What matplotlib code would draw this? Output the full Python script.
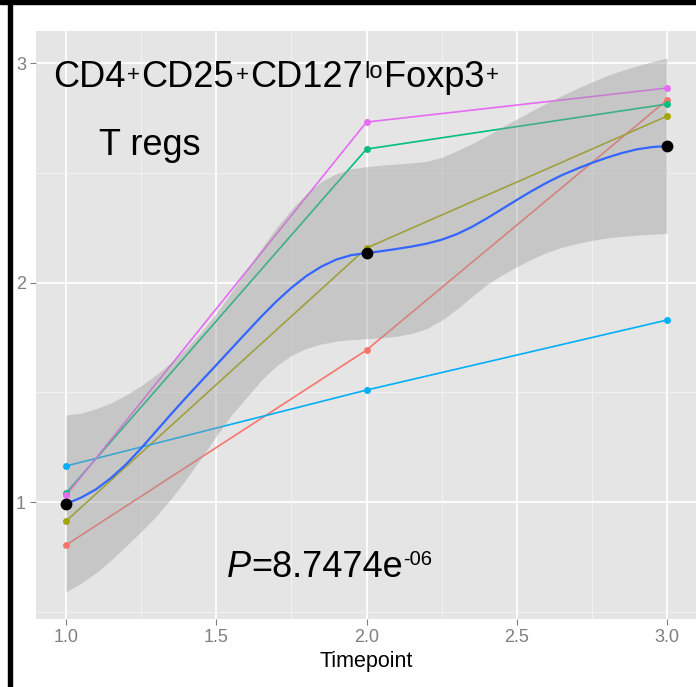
import numpy as np
import matplotlib
matplotlib.use("Agg")
import matplotlib.pyplot as plt
from matplotlib.patches import Rectangle
from matplotlib.transforms import offset_copy

plt.rcParams['font.family'] = ['Liberation Sans', 'DejaVu Sans']

# per-subject values at each timepoint
timepoints = [1.0, 2.0, 3.0]
subj_red = [0.804, 1.692, 2.831]
subj_olive = [0.913, 2.157, 2.758]
subj_green = [1.041, 2.608, 2.813]
subj_blue = [1.164, 1.510, 1.829]
subj_pink = [1.030, 2.731, 2.886]
subj_colors = ['#F8766D', '#A3A500', '#00BF7D', '#00B0F6', '#E76BF3']

# mean per timepoint (black dots)
means = [0.990, 2.134, 2.622]

# smoother and its band, every 0.05
sm_x = [1.00, 1.05, 1.10, 1.15, 1.20, 1.25, 1.30, 1.35, 1.40, 1.45, 1.50,
        1.55, 1.60, 1.65, 1.70, 1.75, 1.80, 1.85, 1.90, 1.95, 2.00,
        2.05, 2.10, 2.15, 2.20, 2.25, 2.30, 2.35, 2.40, 2.45, 2.50,
        2.55, 2.60, 2.65, 2.70, 2.75, 2.80, 2.85, 2.90, 2.95, 3.00]
sm_fit = [0.991, 1.020, 1.058, 1.110, 1.172, 1.245, 1.323, 1.401, 1.477, 1.551, 1.624,
          1.698, 1.772, 1.845, 1.914, 1.976, 2.030, 2.073, 2.105, 2.125, 2.134,
          2.143, 2.153, 2.164, 2.177, 2.195, 2.220, 2.253, 2.292, 2.334, 2.376,
          2.417, 2.455, 2.489, 2.518, 2.545, 2.569, 2.590, 2.607, 2.617, 2.622]
sm_upper = [1.396, 1.405, 1.425, 1.452, 1.488, 1.530, 1.580, 1.636, 1.700, 1.775, 1.860,
            1.955, 2.055, 2.155, 2.250, 2.333, 2.405, 2.460, 2.497, 2.518, 2.528,
            2.535, 2.540, 2.545, 2.552, 2.570, 2.600, 2.632, 2.668, 2.707, 2.745,
            2.782, 2.818, 2.852, 2.884, 2.914, 2.943, 2.966, 2.987, 3.006, 3.023]
sm_lower = [0.591, 0.630, 0.678, 0.735, 0.800, 0.865, 0.935, 1.015, 1.105, 1.200, 1.300,
            1.395, 1.475, 1.555, 1.620, 1.668, 1.700, 1.720, 1.733, 1.740, 1.744,
            1.748, 1.755, 1.768, 1.790, 1.828, 1.878, 1.935, 1.990, 2.034, 2.072,
            2.107, 2.137, 2.160, 2.178, 2.192, 2.203, 2.210, 2.216, 2.220, 2.224]

fig = plt.figure(figsize=(6.96, 6.87), dpi=100)
fig.patch.set_facecolor('white')
ax = fig.add_axes([36/696, 1-619/687, 661/696, 588/687])
ax.set_facecolor('#E5E5E5')

subjects = [subj_red, subj_olive, subj_green, subj_blue, subj_pink]
for vals, c in zip(subjects, subj_colors):
    ax.plot(timepoints, vals, '-', color=c, lw=1.2, zorder=2)
    ax.plot(timepoints, vals, 'o', color=c, ms=5, mec='none', zorder=4)

ax.fill_between(sm_x, sm_lower, sm_upper, color='#999999', alpha=0.4, lw=0, zorder=3)
ax.plot(sm_x, sm_fit, '-', color='#3366FF', lw=1.6, zorder=5)
ax.plot(timepoints, means, 'o', color='black', ms=8.5, mec='none', zorder=6)

ax.set_xlim(0.9, 3.1)
ax.set_ylim(0.467, 3.146)
ax.set_xticks([1.0, 1.5, 2.0, 2.5, 3.0])
ax.set_xticklabels(['1.0', '1.5', '2.0', '2.5', '3.0'])
ax.set_yticks([1, 2, 3])
ax.set_yticklabels(['1', '2', '3'])
ax.set_xticks([1.25, 1.75, 2.25, 2.75], minor=True)
ax.set_yticks([0.5, 1.5, 2.5], minor=True)
ax.grid(which='major', color='white', lw=1.3, zorder=0)
ax.grid(which='minor', color='#F2F2F2', lw=0.7, zorder=0)
ax.set_axisbelow(True)
for s in ax.spines.values():
    s.set_visible(False)
ax.tick_params(which='major', length=4.3, width=0.8, color='#7F7F7F',
               labelcolor='#7F7F7F', labelsize=13, pad=3)
ax.tick_params(which='minor', length=0)

ax.set_xlabel('Timepoint', fontsize=15.5, va='center')
ax.xaxis.set_label_coords((366-36)/661, (619-662)/588)


def rich_text(x, y, pieces, gap=2):
    # pieces: (text, size, rise_px, style); laid out left to right
    renderer = fig.canvas.get_renderer()
    dx = 0
    prev_small = False
    for s, size, rise, style in pieces:
        small = size < 20
        if small or prev_small:
            dx += gap
        tr = offset_copy(ax.transData, fig=fig, x=dx, y=rise, units='dots')
        t = ax.text(x, y, s, fontsize=size, style=style, transform=tr,
                    va='baseline', ha='left', zorder=7)
        dx += t.get_window_extent(renderer).width
        prev_small = small


big = 26
rich_text(0.957, 2.891, [('CD4', big, 0, 'normal'), ('+', 16, 5.5, 'normal'),
                         ('CD25', big, 0, 'normal'), ('+', 16, 5.5, 'normal'),
                         ('CD127', big, 0, 'normal'), ('lo', 17, 9, 'normal'),
                         ('Foxp3', big, 0, 'normal'), ('+', 16, 5.5, 'normal')], gap=1.5)
ax.text(1.110, 2.581, 'T regs', fontsize=big, va='baseline', ha='left', zorder=7)
rich_text(1.536, 0.658, [('P', big, 0, 'italic'), ('=8.7474e', big, 0, 'normal'),
                         ('-06', 14.5, 11.7, 'normal')], gap=0)

# black frame lines at the top and left edge
fig.patches.append(Rectangle((0, 1-4/687), 1, 4/687, transform=fig.transFigure,
                             color='black', zorder=10))
fig.patches.append(Rectangle((8/696, 0), 4/696, 1, transform=fig.transFigure,
                             color='black', zorder=10))

fig.savefig('out.png', dpi=100)
